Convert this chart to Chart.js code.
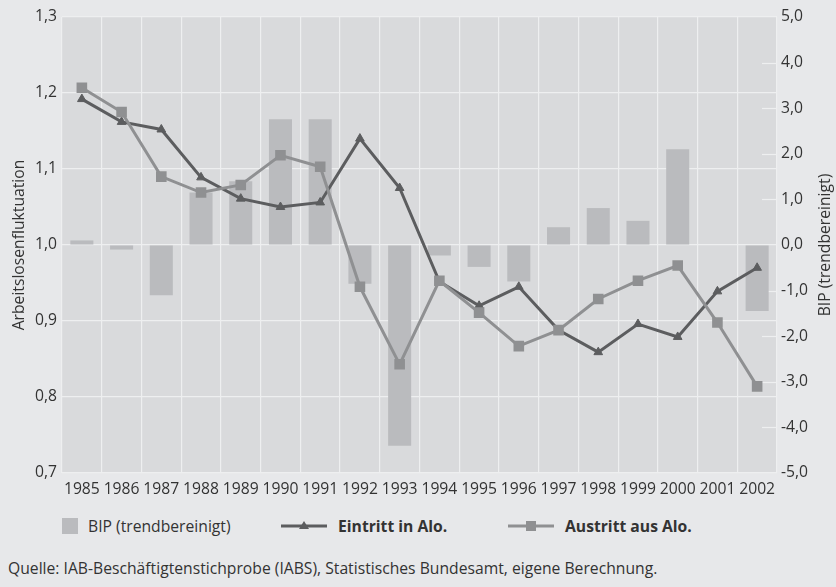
<!DOCTYPE html>
<html lang="de">
<head>
<meta charset="utf-8">
<title>Arbeitslosenfluktuation und BIP 1985–2002</title>
<script src="https://cdn.jsdelivr.net/npm/chart.js@4/dist/chart.umd.min.js"></script>
<style>
  body { margin: 0; background: #e7e8ea; font-family: "Open Sans", sans-serif; color: #333; }
  #wrap { position: relative; width: 836px; height: 587px; overflow: hidden; }
  #chartBox { position: absolute; left: 0; top: 0; width: 836px; height: 505px; }
  .lg { position: absolute; top: 515px; height: 22px; display: flex; align-items: center; font-size: 15.7px; white-space: nowrap; }
  .lg b { font-weight: 700; }
  .swatch { width: 16px; height: 16px; background: #babbbe; margin-right: 10px; }
  .lg svg { margin-right: 11px; }
  #source { position: absolute; left: 8px; top: 557px; font-size: 15.7px; white-space: nowrap; }
</style>
</head>
<body>
<div id="wrap">
  <div id="chartBox"><canvas id="chart"></canvas></div>
  <div class="lg" style="left:62px"><div class="swatch"></div><span>BIP (trendbereinigt)</span></div>
  <div class="lg" style="left:281px">
    <svg width="46" height="12"><line x1="0" y1="6" x2="46" y2="6" stroke="#5c5d5f" stroke-width="3"/><polygon points="23,1 28,9 18,9" fill="#5c5d5f"/></svg>
    <b>Eintritt in Alo.</b>
  </div>
  <div class="lg" style="left:508px">
    <svg width="46" height="12"><line x1="0" y1="6" x2="46" y2="6" stroke="#8f9092" stroke-width="3"/><rect x="18" y="1" width="10" height="10" fill="#8f9092"/></svg>
    <b>Austritt aus Alo.</b>
  </div>
  <div id="source">Quelle: IAB-Beschäftigtenstichprobe (IABS), Statistisches Bundesamt, eigene Berechnung.</div>
</div>
<script>
const years = ['1985', '1986', '1987', '1988', '1989', '1990', '1991', '1992', '1993',
               '1994', '1995', '1996', '1997', '1998', '1999', '2000', '2001', '2002'];
// BIP (trendbereinigt), right axis
const bipValues = [0.1, -0.1, -1.1, 1.15, 1.4, 2.76, 2.76, -0.85, -4.4,
                   -0.23, -0.48, -0.8, 0.39, 0.81, 0.53, 2.1, 0, -1.45];
// Eintritt in Alo., left axis
const eintrittValues = [1.192, 1.162, 1.152, 1.089, 1.061, 1.050, 1.056, 1.140, 1.075,
                        0.952, 0.920, 0.945, 0.888, 0.859, 0.896, 0.879, 0.939, 0.970];
// Austritt aus Alo., left axis
const austrittValues = [1.207, 1.175, 1.090, 1.069, 1.079, 1.118, 1.103, 0.945, 0.843,
                        0.953, 0.911, 0.867, 0.888, 0.929, 0.953, 0.973, 0.898, 0.814];
const leftRange = [0.7, 1.3];
const rightRange = [-5, 5];

const comma = v => Number(v).toFixed(1).replace('.', ',');
const tickFont = { family: '"Open Sans", sans-serif', size: 15.7 };

// plot background, right-side tick marks and right axis title
const decor = {
  id: 'decor',
  beforeDraw(chart) {
    const { ctx, chartArea: a } = chart;
    ctx.save();
    ctx.fillStyle = '#d9dadc';
    ctx.fillRect(a.left, a.top, a.right - a.left, a.bottom - a.top);
    ctx.restore();
  },
  beforeDatasetsDraw(chart) {
    const { ctx, chartArea: a, scales } = chart;
    ctx.save();
    ctx.strokeStyle = '#eeeff0';
    ctx.lineWidth = 1.2;
    scales.y2.ticks.forEach(t => {
      if (t.value === 0 || Math.abs(t.value) === 5) return;
      const y = Math.round(scales.y2.getPixelForValue(t.value)) + 0.5;
      ctx.beginPath();
      ctx.moveTo(a.right - 15, y);
      ctx.lineTo(a.right, y);
      ctx.stroke();
    });
    ctx.restore();
  },
  afterDraw(chart) {
    const { ctx, chartArea: a } = chart;
    ctx.save();
    ctx.translate(826, (a.top + a.bottom) / 2);
    ctx.rotate(-Math.PI / 2);
    ctx.font = '15.7px "Open Sans", sans-serif';
    ctx.fillStyle = '#333';
    ctx.textAlign = 'center';
    ctx.textBaseline = 'middle';
    ctx.fillText('BIP (trendbereinigt)', 0, 0);
    ctx.restore();
  }
};

new Chart(document.getElementById('chart'), {
  type: 'bar',
  data: {
    labels: years,
    datasets: [
      {
        type: 'line',
        label: 'Eintritt in Alo.',
        data: eintrittValues,
        yAxisID: 'y',
        borderColor: '#5c5d5f',
        backgroundColor: '#5c5d5f',
        borderWidth: 3,
        pointStyle: 'triangle',
        pointRadius: 5,
        pointBorderWidth: 1,
        tension: 0,
        order: 1
      },
      {
        type: 'line',
        label: 'Austritt aus Alo.',
        data: austrittValues,
        yAxisID: 'y',
        borderColor: '#8f9092',
        backgroundColor: '#8f9092',
        borderWidth: 3,
        pointStyle: 'rect',
        pointRadius: 7.5,
        pointBorderWidth: 0,
        tension: 0,
        order: 0
      },
      {
        label: 'BIP (trendbereinigt)',
        data: bipValues,
        yAxisID: 'y2',
        backgroundColor: '#babbbe',
        barPercentage: 0.58,
        categoryPercentage: 1,
        order: 2
      }
    ]
  },
  options: {
    responsive: true,
    maintainAspectRatio: false,
    animation: false,
    layout: { padding: { top: 17, left: 0, right: 0, bottom: 0 } },
    plugins: {
      legend: { display: false },
      tooltip: { enabled: false }
    },
    scales: {
      x: {
        offset: true,
        grid: { offset: true, color: '#eeeff0', lineWidth: 1.2, drawTicks: false },
        border: { display: false },
        ticks: { font: tickFont, color: '#333', padding: 7, maxRotation: 0, autoSkip: false },
        afterFit: s => { s.height = 32; }
      },
      y: {
        position: 'left',
        min: leftRange[0],
        max: leftRange[1],
        grid: { color: '#eeeff0', lineWidth: 1.2, drawTicks: false },
        border: { display: false },
        ticks: { stepSize: 0.1, font: tickFont, color: '#333', padding: 5, callback: v => comma(v) },
        title: { display: true, text: 'Arbeitslosenfluktuation', font: tickFont, color: '#333', padding: { top: 10, bottom: 0 } },
        afterFit: s => { s.width = 62; }
      },
      y2: {
        position: 'right',
        min: rightRange[0],
        max: rightRange[1],
        grid: { drawOnChartArea: false, drawTicks: false },
        border: { display: false },
        ticks: { stepSize: 1, font: tickFont, color: '#333', padding: 4, callback: v => comma(v) },
        afterFit: s => { s.width = 59; }
      }
    }
  },
  plugins: [decor]
});
</script>
</body>
</html>
